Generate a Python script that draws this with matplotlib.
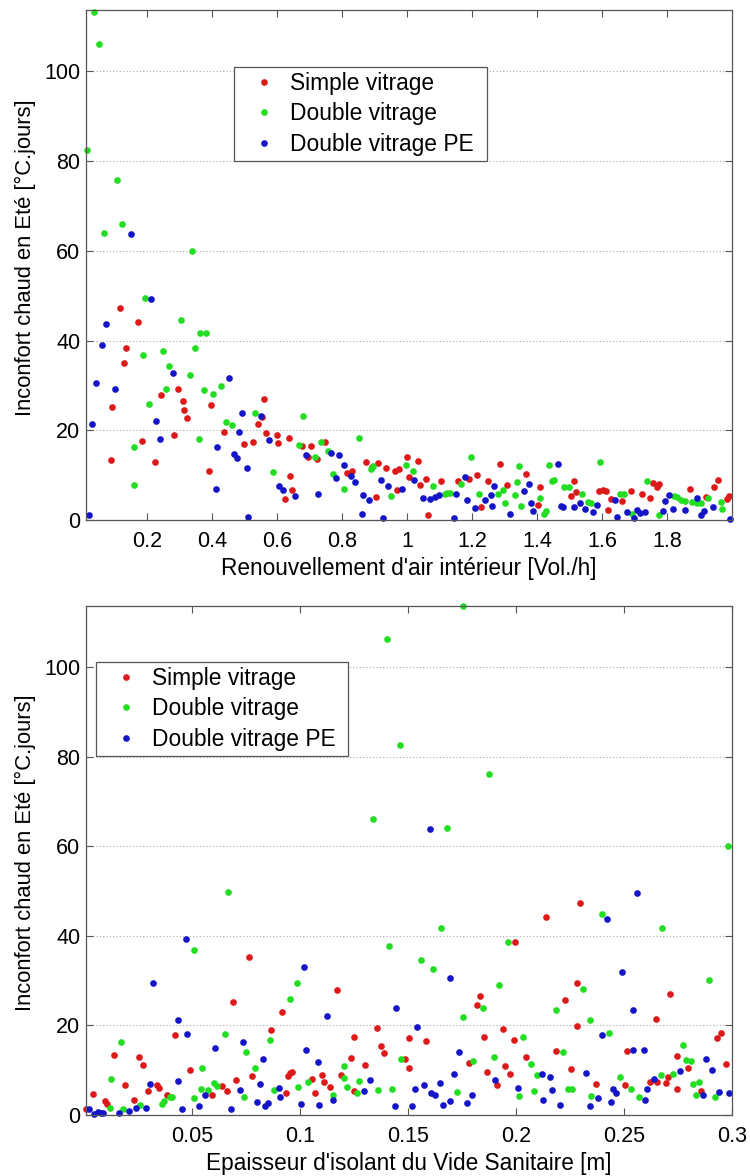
import numpy as np
import matplotlib
matplotlib.use('Agg')
import matplotlib.pyplot as plt

plt.rcParams['font.family'] = ['Liberation Sans', 'DejaVu Sans']

# ---- top panel: air change rate [Vol./h] vs discomfort ----
air_simple = [
    (0.088, 13.4), (0.093, 25.2), (0.118, 47.2), (0.130, 35.0), (0.136, 38.4), (0.173, 44.1),
    (0.184, 17.7), (0.224, 12.9), (0.243, 27.8), (0.282, 18.9), (0.294, 29.3), (0.312, 26.5),
    (0.315, 24.5), (0.322, 22.8), (0.391, 11.0), (0.398, 25.6), (0.438, 19.7), (0.499, 16.9),
    (0.525, 17.3), (0.541, 21.3), (0.553, 23.0), (0.560, 27.0), (0.567, 19.3), (0.599, 18.9),
    (0.603, 17.2), (0.625, 4.6), (0.636, 18.3), (0.640, 9.9), (0.647, 6.6), (0.676, 16.4),
    (0.695, 14.0), (0.704, 16.6), (0.723, 13.7), (0.749, 17.3), (0.814, 10.4), (0.831, 11.0),
    (0.874, 13.0), (0.892, 11.9), (0.905, 5.2), (0.911, 12.7), (0.934, 11.6), (0.964, 11.0),
    (0.968, 6.7), (0.974, 11.3), (1.001, 14.1), (1.005, 9.6), (1.034, 13.1), (1.041, 7.8),
    (1.057, 9.2), (1.065, 1.2), (1.106, 8.7), (1.157, 8.7), (1.192, 9.1), (1.216, 10.1),
    (1.229, 2.9), (1.250, 8.7), (1.286, 12.5), (1.309, 7.9), (1.367, 10.3), (1.402, 3.4),
    (1.410, 7.4), (1.504, 5.3), (1.513, 8.6), (1.521, 6.2), (1.592, 6.4), (1.604, 6.8),
    (1.613, 6.5), (1.617, 2.2), (1.629, 4.6), (1.661, 4.2), (1.688, 6.4), (1.722, 5.8),
    (1.747, 4.8), (1.757, 8.3), (1.768, 7.4), (1.776, 8.0), (1.870, 7.0), (1.919, 5.2),
    (1.945, 7.3), (1.956, 8.9), (1.984, 4.7), (1.990, 5.3),
]
air_double = [
    (0.038, 113.3), (0.051, 106.1), (0.015, 82.4), (0.109, 75.9), (0.123, 66.1), (0.069, 63.9),
    (0.337, 59.9), (0.160, 7.9), (0.160, 16.3), (0.187, 36.8), (0.195, 49.6), (0.206, 25.8),
    (0.250, 37.7), (0.259, 29.3), (0.269, 34.4), (0.304, 44.7), (0.333, 32.4), (0.347, 38.4),
    (0.364, 41.6), (0.383, 41.6), (0.359, 18.0), (0.374, 29.0), (0.402, 28.0), (0.428, 29.9),
    (0.442, 21.9), (0.462, 21.1), (0.532, 23.8), (0.587, 10.6), (0.667, 16.8), (0.679, 23.3),
    (0.718, 14.0), (0.735, 17.4), (0.757, 15.4), (0.772, 10.3), (0.805, 7.0), (0.851, 18.3),
    (0.888, 11.3), (0.896, 12.0), (0.952, 5.3), (0.996, 12.3), (1.019, 10.9), (1.081, 7.5),
    (1.116, 5.8), (1.122, 6.1), (1.132, 6.1), (1.167, 8.1), (1.198, 14.0), (1.222, 5.9),
    (1.281, 5.9), (1.294, 6.7), (1.301, 3.9), (1.331, 5.5), (1.338, 8.4), (1.346, 12.0),
    (1.352, 3.2), (1.408, 4.8), (1.420, 1.4), (1.428, 2.0), (1.436, 12.3), (1.446, 8.7),
    (1.453, 9.0), (1.483, 7.3), (1.498, 7.3), (1.538, 5.7), (1.556, 4.0), (1.565, 3.7),
    (1.593, 12.9), (1.655, 5.8), (1.669, 5.8), (1.693, 1.3), (1.737, 8.8), (1.776, 1.1),
    (1.822, 5.4), (1.830, 5.2), (1.843, 4.4), (1.855, 4.3), (1.878, 4.0), (1.891, 3.9),
    (1.905, 3.9), (1.925, 5.0), (1.966, 4.0), (1.968, 2.4),
]
air_double_pe = [
    (0.151, 63.7), (0.022, 1.1), (0.032, 21.3), (0.042, 30.5), (0.062, 39.1), (0.075, 43.6),
    (0.101, 29.3), (0.211, 49.3), (0.229, 22.0), (0.239, 18.0), (0.280, 32.8), (0.412, 6.9),
    (0.416, 16.2), (0.453, 31.7), (0.469, 14.7), (0.478, 13.8), (0.483, 19.6), (0.491, 23.8),
    (0.509, 11.6), (0.511, 0.7), (0.550, 23.2), (0.575, 17.9), (0.607, 7.6), (0.619, 6.7),
    (0.655, 5.4), (0.690, 14.4), (0.727, 5.9), (0.767, 15.0), (0.783, 9.3), (0.792, 14.4),
    (0.806, 12.3), (0.827, 9.9), (0.839, 8.4), (0.861, 1.3), (0.866, 5.5), (0.882, 4.4),
    (0.919, 9.0), (0.926, 0.4), (0.943, 7.6), (0.986, 7.0), (1.022, 9.0), (1.049, 4.9),
    (1.071, 4.7), (1.087, 5.2), (1.099, 5.6), (1.146, 0.4), (1.151, 5.9), (1.178, 9.6),
    (1.186, 4.5), (1.209, 2.6), (1.240, 4.4), (1.258, 5.6), (1.261, 3.2), (1.267, 7.6),
    (1.316, 1.3), (1.359, 6.5), (1.374, 8.0), (1.383, 3.9), (1.389, 2.0), (1.464, 12.6),
    (1.475, 3.2), (1.480, 2.8), (1.515, 2.9), (1.532, 3.7), (1.548, 2.4), (1.572, 1.9),
    (1.584, 3.3), (1.641, 4.4), (1.647, 0.7), (1.677, 1.9), (1.699, 0.4), (1.707, 2.2),
    (1.717, 1.6), (1.733, 1.9), (1.789, 2.0), (1.795, 4.3), (1.806, 5.6), (1.818, 2.4),
    (1.854, 2.3), (1.893, 4.8), (1.905, 1.1), (1.913, 2.0), (1.941, 3.0), (1.994, 0.2),
]

# ---- bottom panel: crawl-space insulation thickness [m] vs discomfort ----
ins_simple = [
    (0.001, 1.3), (0.0039, 4.7), (0.0096, 3.1), (0.0106, 2.5), (0.0137, 13.5), (0.019, 6.6),
    (0.0228, 3.4), (0.0252, 13.0), (0.027, 11.1), (0.0296, 5.3), (0.0336, 6.8), (0.0347, 6.0),
    (0.0383, 4.4), (0.0421, 17.8), (0.0489, 10.0), (0.0591, 4.5), (0.064, 6.4), (0.0659, 5.3),
    (0.0688, 25.3), (0.0702, 7.9), (0.0764, 35.2), (0.0775, 8.6), (0.0867, 19.0), (0.0915, 23.0),
    (0.0935, 4.8), (0.0943, 8.6), (0.0954, 9.4), (0.0963, 9.6), (0.1054, 8.1), (0.1068, 4.9),
    (0.1100, 8.9), (0.1109, 7.4), (0.1136, 6.2), (0.1171, 28.0), (0.1188, 9.0), (0.1233, 12.7),
    (0.1249, 17.4), (0.1250, 5.4), (0.1302, 11.2), (0.1358, 19.4), (0.1376, 15.5), (0.1390, 13.9),
    (0.1486, 12.6), (0.1502, 10.5), (0.1502, 17.1), (0.1582, 16.6), (0.1781, 11.6), (0.1818, 24.6),
    (0.1835, 26.6), (0.1852, 17.4), (0.1863, 9.6), (0.1910, 6.6), (0.1938, 19.1), (0.1949, 11.0),
    (0.1972, 9.1), (0.1997, 38.6), (0.1991, 16.7), (0.2045, 13.0), (0.2139, 44.3), (0.2184, 14.3),
    (0.2228, 25.7), (0.2253, 10.3), (0.2281, 19.9), (0.2284, 29.4), (0.2296, 47.4), (0.2372, 6.9),
    (0.2506, 6.6), (0.2515, 14.2), (0.2622, 7.3), (0.2651, 7.3), (0.2648, 21.4), (0.2693, 7.1),
    (0.2704, 8.4), (0.2713, 27.1), (0.2744, 13.2), (0.2747, 5.9), (0.2796, 10.4), (0.2855, 5.4),
    (0.2929, 17.3), (0.2951, 18.4), (0.2971, 11.4),
]
ins_double = [
    (0.012, 1.5), (0.0125, 8.1), (0.017, 16.4), (0.0177, 1.4), (0.0259, 2.3), (0.0358, 2.5),
    (0.0367, 3.1), (0.0395, 4.0), (0.0404, 4.0), (0.0506, 36.9), (0.0509, 3.7), (0.0543, 10.4),
    (0.0542, 5.7), (0.0574, 5.5), (0.0599, 7.2), (0.0614, 6.4), (0.0653, 18.1), (0.0667, 49.7),
    (0.0742, 4.0), (0.075, 14.1), (0.0792, 10.6), (0.0858, 16.8), (0.0877, 5.6), (0.0954, 25.9),
    (0.0985, 29.4), (0.0988, 6.2), (0.1037, 7.3), (0.1154, 4.5), (0.1204, 11.0), (0.1201, 8.2),
    (0.1216, 6.2), (0.1265, 4.8), (0.1273, 7.6), (0.1360, 5.5), (0.1411, 37.8), (0.1426, 5.9),
    (0.1466, 12.4), (0.1560, 34.6), (0.1617, 32.6), (0.1654, 41.8), (0.1725, 5.1), (0.1752, 21.9),
    (0.1802, 12.1), (0.1846, 24.0), (0.1898, 13.0), (0.1923, 29.1), (0.1963, 38.6), (0.2012, 4.2),
    (0.2031, 17.5), (0.2068, 11.4), (0.2083, 5.4), (0.2099, 8.9), (0.2187, 23.4), (0.2215, 14.1),
    (0.2242, 5.8), (0.2261, 5.7), (0.2309, 28.2), (0.2340, 21.2), (0.2347, 4.2), (0.2400, 45.0),
    (0.2432, 18.4), (0.2480, 8.5), (0.2531, 5.8), (0.2569, 4.0), (0.2670, 9.0), (0.2676, 41.8),
    (0.2727, 9.2), (0.2775, 15.6), (0.2786, 12.3), (0.2812, 12.0), (0.2821, 7.0), (0.2847, 7.3),
    (0.2832, 4.4), (0.2892, 30.2), (0.2923, 4.0), (0.1754, 113.7), (0.1401, 106.4), (0.1460, 82.7),
    (0.1875, 76.2), (0.1338, 66.2), (0.1679, 64.1), (0.2983, 60.1),
]
ins_double_pe = [
    (0.002, 1.3), (0.0043, 0.3), (0.0062, 0.6), (0.0076, 0.5), (0.0088, 0.5), (0.0159, 0.5),
    (0.0207, 0.8), (0.0241, 1.5), (0.0287, 1.6), (0.0306, 6.9), (0.0319, 29.4), (0.0435, 21.3),
    (0.0434, 7.6), (0.0451, 1.3), (0.0471, 39.4), (0.0478, 18.1), (0.0531, 2.0), (0.0559, 4.4),
    (0.0606, 15.0), (0.0679, 1.3), (0.0719, 5.5), (0.0733, 16.3), (0.0799, 3.0), (0.0816, 6.9),
    (0.0826, 12.6), (0.0838, 2.0), (0.0852, 2.7), (0.0903, 6.0), (0.0906, 4.0), (0.1019, 33.0),
    (0.1003, 2.5), (0.1028, 14.6), (0.1083, 11.8), (0.1088, 2.2), (0.1122, 22.2), (0.1154, 3.3),
    (0.1296, 5.3), (0.1324, 7.8), (0.1438, 2.0), (0.1444, 24.0), (0.1517, 2.0), (0.1534, 5.7),
    (0.1540, 19.7), (0.1574, 6.6), (0.1608, 4.9), (0.1625, 4.5), (0.1647, 7.2), (0.1660, 2.3),
    (0.1696, 30.7), (0.1696, 3.1), (0.1713, 9.2), (0.1735, 14.0), (0.1772, 2.6), (0.1798, 4.5),
    (0.1904, 7.7), (0.2008, 6.1), (0.2120, 9.2), (0.2125, 3.4), (0.2157, 8.5), (0.2164, 5.6),
    (0.2205, 2.3), (0.2323, 9.3), (0.2343, 2.0), (0.2378, 3.7), (0.2397, 17.9), (0.2420, 43.8),
    (0.2441, 2.9), (0.2451, 5.7), (0.2465, 4.9), (0.2492, 31.9), (0.2541, 14.5), (0.2543, 23.4),
    (0.2560, 49.5), (0.2593, 14.5), (0.2597, 3.4), (0.2606, 5.7), (0.2637, 8.1), (0.2761, 9.9),
    (0.2867, 4.4), (0.2878, 12.4), (0.2909, 10.0), (0.2941, 5.1), (0.2986, 4.8), (0.1599, 63.9),
]

labels = ['Simple vitrage', 'Double vitrage', 'Double vitrage PE']
colors = ['#dd1a1a', '#22dd22', '#1515c8']
ylabel = 'Inconfort chaud en Eté [°C.jours]'
y_ticks = [0, 20, 40, 60, 80, 100]
air_ticks = [0.2, 0.4, 0.6, 0.8, 1, 1.2, 1.4, 1.6, 1.8]
air_ticklabels = ['0.2', '0.4', '0.6', '0.8', '1', '1.2', '1.4', '1.6', '1.8']
ins_ticks = [0.05, 0.1, 0.15, 0.2, 0.25, 0.3]
ins_ticklabels = ['0.05', '0.1', '0.15', '0.2', '0.25', '0.3']


def draw_panel(ax, series, xlim, xticks, xticklabels, xlabel, legend_box):
    for pts, lab, c in zip(series, labels, colors):
        arr = np.array(pts)
        ax.plot(arr[:, 0], arr[:, 1], linestyle='none', marker='o', ms=4.8,
                mew=0, color=c, label=lab, clip_on=False)
    ax.set_xlim(xlim)
    ax.set_ylim(0, 113.7)
    ax.set_xticks(xticks)
    ax.set_xticklabels(xticklabels)
    ax.set_yticks(y_ticks)
    ax.tick_params(direction='in', top=True, right=True, length=5, width=0.8,
                   color='#555555', labelsize=15.5)
    ax.tick_params(axis='x', pad=8)
    ax.tick_params(axis='y', pad=4)
    for sp in ax.spines.values():
        sp.set_color('#555555')
        sp.set_linewidth(0.9)
    ax.yaxis.grid(True, linestyle=(0, (1, 2)), color='#aaaaaa', linewidth=0.8)
    ax.set_axisbelow(True)
    ax.set_xlabel(xlabel, fontsize=16.3, labelpad=3.5)
    ax.set_ylabel(ylabel, fontsize=15.8)
    ax.yaxis.set_label_coords(-0.077, 0.515)
    leg = ax.legend(loc='upper left', bbox_to_anchor=legend_box, mode='expand',
                    fontsize=16.4, frameon=True, fancybox=False, edgecolor='#555555',
                    framealpha=1, markerscale=1.0, handlelength=2.19, handletextpad=0.05,
                    labelspacing=0.32, borderpad=0.22, borderaxespad=0)
    leg.get_frame().set_linewidth(0.9)


fig = plt.figure(figsize=(7.5, 11.76), dpi=100)
ax1 = fig.add_axes([0.1147, 0.5578, 0.8613, 0.4337])
ax2 = fig.add_axes([0.1147, 0.0519, 0.8613, 0.4328])

draw_panel(ax1, [air_simple, air_double, air_double_pe], (0.0123, 2.0),
           air_ticks, air_ticklabels, "Renouvellement d'air intérieur [Vol./h]",
           (0.2291, 0.5, 0.3916, 0.388))
draw_panel(ax2, [ins_simple, ins_double, ins_double_pe], (0.0008, 0.3),
           ins_ticks, ins_ticklabels, "Epaisseur d'isolant du Vide Sanitaire [m]",
           (0.0155, 0.5, 0.390, 0.390))

fig.savefig('out.png', dpi=100)
